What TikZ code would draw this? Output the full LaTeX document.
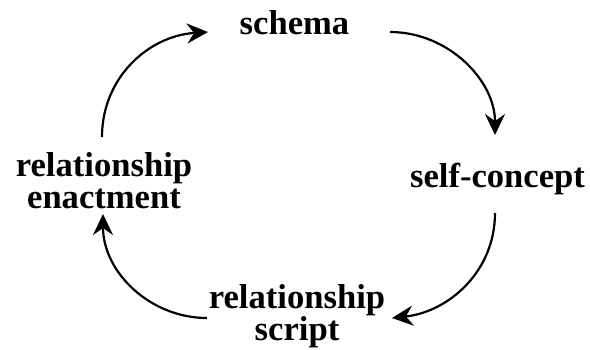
\documentclass[tikz,border=0pt]{standalone}
\usepackage{fontspec}
\setmainfont{Liberation Serif}
\usetikzlibrary{arrows.meta}
\begin{document}
\begin{tikzpicture}[x=1pt,y=-1pt,
  lbl/.style={inner sep=0pt, align=center,
    font=\fontsize{34.6}{32}\selectfont\bfseries},
  cycle/.style={line width=2.2pt,
    -{Stealth[length=21pt,width=20pt,inset=7pt]}}]
\useasboundingbox (0,0) rectangle (590,349);

% the four stages (base = baseline of the last line)
\node[lbl, anchor=base] (schema) at (294.5,34.5) {schema};
\node[lbl, anchor=base] (self)   at (497.5,187) {self-concept};
\node[lbl, anchor=base] (enact)  at (104,208) {relationship\\enactment};
\node[lbl, anchor=base] (script) at (297,340) {relationship\\script};

% arrow end points around the cycle
\coordinate (e-out)  at (102,137);
\coordinate (s-in)   at (208,32);
\coordinate (s-out)  at (390,32);
\coordinate (c-in)   at (495,135);
\coordinate (c-out)  at (495,213);
\coordinate (r-in)   at (392,318);
\coordinate (r-out)  at (207,318);
\coordinate (e-in)   at (103,214);

\draw[cycle] (e-out) .. controls (102,78) and (148,36) .. (s-in);
\draw[cycle] (s-out) .. controls (448,32) and (495,80) .. (c-in);
\draw[cycle] (c-out) .. controls (495,272) and (448,312) .. (r-in);
\draw[cycle] (r-out) .. controls (150,318) and (103,272) .. (e-in);
\end{tikzpicture}
\end{document}
